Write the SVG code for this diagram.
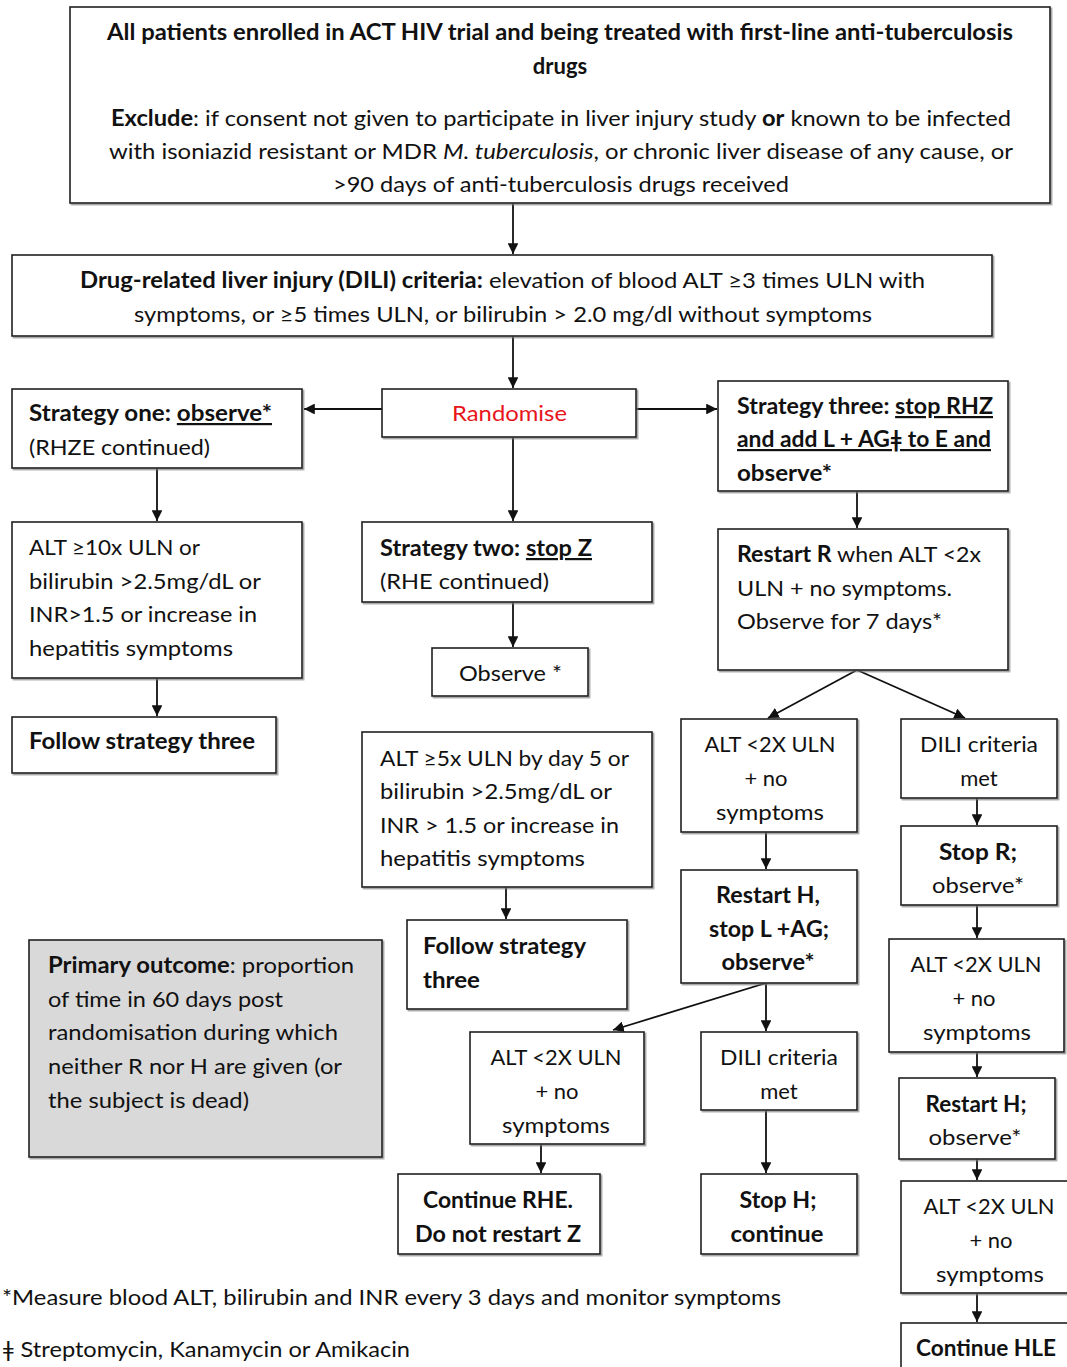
<svg xmlns="http://www.w3.org/2000/svg" width="1067" height="1367" viewBox="0 0 1067 1367">
<style>
.box{fill:#fff;stroke:#1f1f1f;stroke-width:1.6;filter:url(#sh)}
.grey{fill:#d9d9d9}
.t{font-family:Lato,"Liberation Sans",sans-serif;font-size:22px;fill:#111}
.b{font-weight:700}
.c{text-anchor:middle}
.u{text-decoration:underline}
.red{fill:#e8141b}
.con{fill:none;stroke:#111;stroke-width:1.8;marker-end:url(#ah)}
</style>
<defs>
<marker id="ah" viewBox="0 0 10 10" refX="10" refY="5" markerWidth="6" markerHeight="6" markerUnits="strokeWidth" orient="auto">
<path d="M0,0 L10,5 L0,10 z" fill="#111"/>
</marker>
<filter id="sh" x="-5%" y="-5%" width="110%" height="115%">
<feDropShadow dx="1.5" dy="1.5" stdDeviation="0.6" flood-color="#777" flood-opacity="0.7"/>
</filter>
</defs>
<rect width="1067" height="1367" fill="#fff"/>

<g id="connectors">
<path class="con" d="M513,203 V254"/>
<path class="con" d="M513,336 V388"/>
<path class="con" d="M382,409 H304"/>
<path class="con" d="M636,409 H717"/>
<path class="con" d="M513,437 V521"/>
<path class="con" d="M157,468 V521"/>
<path class="con" d="M157,678 V716"/>
<path class="con" d="M513,602 V647"/>
<path class="con" d="M506,887 V919"/>
<path class="con" d="M857,491 V528"/>
<path class="con" d="M857,670 L768,718"/>
<path class="con" d="M857,670 L965,718"/>
<path class="con" d="M766,832 V869"/>
<path class="con" d="M977,798 V825"/>
<path class="con" d="M977,905 V938"/>
<path class="con" d="M977,1052 V1077"/>
<path class="con" d="M977,1159 V1180"/>
<path class="con" d="M977,1293 V1322"/>
<path class="con" d="M766,983 L613,1030"/>
<path class="con" d="M766,983 V1031"/>
<path class="con" d="M541,1144 V1173"/>
<path class="con" d="M766,1110 V1173"/>
</g>

<g id="n-enrolled">
<rect class="box" x="70" y="7" width="980" height="196"/>
<text class="t b c" x="560" y="40" textLength="906" lengthAdjust="spacingAndGlyphs">All patients enrolled in ACT HIV trial and being treated with first-line anti-tuberculosis</text>
<text class="t b c" x="560" y="74">drugs</text>
<text class="t" x="111" y="126" textLength="900" lengthAdjust="spacingAndGlyphs"><tspan class="b">Exclude</tspan>: if consent not given to participate in liver injury study <tspan class="b">or</tspan> known to be infected</text>
<text class="t" x="109" y="159" textLength="904" lengthAdjust="spacingAndGlyphs">with isoniazid resistant or MDR <tspan font-style="italic">M. tuberculosis</tspan>, or chronic liver disease of any cause, or</text>
<text class="t" x="333" y="192" textLength="456" lengthAdjust="spacingAndGlyphs">&gt;90 days of anti-tuberculosis drugs received</text>
</g>

<g id="n-dili-criteria">
<rect class="box" x="12" y="255" width="980" height="81"/>
<text class="t" x="80" y="288" textLength="845" lengthAdjust="spacingAndGlyphs"><tspan class="b">Drug-related liver injury (DILI) criteria:</tspan>  elevation of blood ALT ≥3 times ULN with</text>
<text class="t" x="134" y="322" textLength="738" lengthAdjust="spacingAndGlyphs">symptoms, or ≥5 times ULN, or bilirubin &gt; 2.0 mg/dl without symptoms</text>
</g>

<g id="n-randomise">
<rect class="box" x="382" y="389" width="254" height="48"/>
<text class="t red" x="452" y="421" textLength="115" lengthAdjust="spacingAndGlyphs">Randomise</text>
</g>

<g id="n-strategy-one">
<rect class="box" x="12" y="389" width="290" height="79"/>
<text class="t b" x="29" y="421" textLength="243" lengthAdjust="spacingAndGlyphs">Strategy one: <tspan class="u">observe*</tspan></text>
<text class="t" x="29" y="455" textLength="181" lengthAdjust="spacingAndGlyphs">(RHZE continued)</text>
</g>

<g id="n-alt10">
<rect class="box" x="12" y="522" width="290" height="156"/>
<text class="t" x="29" y="555" textLength="171" lengthAdjust="spacingAndGlyphs">ALT ≥10x ULN or</text>
<text class="t" x="29" y="589" textLength="232" lengthAdjust="spacingAndGlyphs">bilirubin &gt;2.5mg/dL or</text>
<text class="t" x="29" y="622" textLength="228" lengthAdjust="spacingAndGlyphs">INR&gt;1.5 or increase in</text>
<text class="t" x="29" y="656" textLength="204" lengthAdjust="spacingAndGlyphs">hepatitis symptoms</text>
</g>

<g id="n-follow3-a">
<rect class="box" x="12" y="717" width="264" height="56"/>
<text class="t b" x="29" y="749" textLength="226" lengthAdjust="spacingAndGlyphs">Follow strategy three</text>
</g>

<g id="n-strategy-two">
<rect class="box" x="362" y="522" width="290" height="80"/>
<text class="t b" x="380" y="556" textLength="212" lengthAdjust="spacingAndGlyphs">Strategy two: <tspan class="u">stop Z</tspan></text>
<text class="t" x="380" y="589" textLength="169" lengthAdjust="spacingAndGlyphs">(RHE continued)</text>
</g>

<g id="n-observe">
<rect class="box" x="432" y="648" width="156" height="48"/>
<text class="t" x="459" y="681" textLength="103" lengthAdjust="spacingAndGlyphs">Observe *</text>
</g>

<g id="n-alt5">
<rect class="box" x="362" y="732" width="290" height="155"/>
<text class="t" x="380" y="766" textLength="249" lengthAdjust="spacingAndGlyphs">ALT ≥5x ULN by day 5 or</text>
<text class="t" x="380" y="799" textLength="232" lengthAdjust="spacingAndGlyphs">bilirubin &gt;2.5mg/dL or</text>
<text class="t" x="380" y="833" textLength="239" lengthAdjust="spacingAndGlyphs">INR &gt; 1.5 or increase in</text>
<text class="t" x="380" y="866" textLength="205" lengthAdjust="spacingAndGlyphs">hepatitis symptoms</text>
</g>

<g id="n-follow3-b">
<rect class="box" x="407" y="920" width="220" height="89"/>
<text class="t b" x="423" y="954" textLength="163" lengthAdjust="spacingAndGlyphs">Follow strategy</text>
<text class="t b" x="423" y="988" textLength="57" lengthAdjust="spacingAndGlyphs">three</text>
</g>

<g id="n-primary-outcome">
<rect class="box grey" x="29" y="940" width="353" height="217"/>
<text class="t" x="48" y="973" textLength="306" lengthAdjust="spacingAndGlyphs"><tspan class="b">Primary outcome</tspan>: proportion</text>
<text class="t" x="48" y="1007" textLength="235" lengthAdjust="spacingAndGlyphs">of time in 60 days post</text>
<text class="t" x="48" y="1040" textLength="290" lengthAdjust="spacingAndGlyphs">randomisation during which</text>
<text class="t" x="48" y="1074" textLength="294" lengthAdjust="spacingAndGlyphs">neither R nor H are given (or</text>
<text class="t" x="48" y="1108" textLength="201" lengthAdjust="spacingAndGlyphs">the subject is dead)</text>
</g>

<g id="n-strategy-three">
<rect class="box" x="718" y="381" width="290" height="110"/>
<text class="t b" x="737" y="414" textLength="256" lengthAdjust="spacingAndGlyphs">Strategy three: <tspan class="u">stop RHZ</tspan></text>
<text class="t b u" x="737" y="447" textLength="254" lengthAdjust="spacingAndGlyphs">and add L + AGǂ to E and</text>
<text class="t b" x="737" y="481" textLength="95" lengthAdjust="spacingAndGlyphs">observe*</text>
</g>

<g id="n-restart-r">
<rect class="box" x="718" y="529" width="290" height="141"/>
<text class="t" x="737" y="562" textLength="244" lengthAdjust="spacingAndGlyphs"><tspan class="b">Restart R</tspan> when ALT &lt;2x</text>
<text class="t" x="737" y="596" textLength="215" lengthAdjust="spacingAndGlyphs">ULN + no symptoms.</text>
<text class="t" x="737" y="629" textLength="205" lengthAdjust="spacingAndGlyphs">Observe for 7 days*</text>
</g>

<g id="n-alt2-a">
<rect class="box" x="681" y="719" width="176" height="113"/>
<text class="t c" x="770" y="752" textLength="131" lengthAdjust="spacingAndGlyphs">ALT &lt;2X ULN</text>
<text class="t c" x="766" y="786">+ no</text>
<text class="t c" x="770" y="820" textLength="108" lengthAdjust="spacingAndGlyphs">symptoms</text>
</g>

<g id="n-dili-met-a">
<rect class="box" x="901" y="719" width="156" height="79"/>
<text class="t c" x="979" y="752" textLength="118" lengthAdjust="spacingAndGlyphs">DILI criteria</text>
<text class="t c" x="979" y="786">met</text>
</g>

<g id="n-restart-h-stop">
<rect class="box" x="681" y="870" width="176" height="113"/>
<text class="t b c" x="768" y="903" textLength="104" lengthAdjust="spacingAndGlyphs">Restart H,</text>
<text class="t b c" x="769" y="937" textLength="120" lengthAdjust="spacingAndGlyphs">stop L +AG;</text>
<text class="t b c" x="768" y="970" textLength="93" lengthAdjust="spacingAndGlyphs">observe*</text>
</g>

<g id="n-stop-r">
<rect class="box" x="901" y="826" width="156" height="79"/>
<text class="t b c" x="978" y="860" textLength="78" lengthAdjust="spacingAndGlyphs">Stop R;</text>
<text class="t c" x="978" y="893" textLength="92" lengthAdjust="spacingAndGlyphs">observe*</text>
</g>

<g id="n-alt2-b">
<rect class="box" x="889" y="939" width="175" height="113"/>
<text class="t c" x="976" y="972" textLength="131" lengthAdjust="spacingAndGlyphs">ALT &lt;2X ULN</text>
<text class="t c" x="974" y="1006">+ no</text>
<text class="t c" x="977" y="1040" textLength="108" lengthAdjust="spacingAndGlyphs">symptoms</text>
</g>

<g id="n-restart-h">
<rect class="box" x="899" y="1078" width="156" height="81"/>
<text class="t b c" x="976" y="1112" textLength="101" lengthAdjust="spacingAndGlyphs">Restart H;</text>
<text class="t c" x="975" y="1145" textLength="93" lengthAdjust="spacingAndGlyphs">observe*</text>
</g>

<g id="n-alt2-c">
<rect class="box" x="901" y="1181" width="170" height="112"/>
<text class="t c" x="989" y="1214" textLength="131" lengthAdjust="spacingAndGlyphs">ALT &lt;2X ULN</text>
<text class="t c" x="991" y="1248">+ no</text>
<text class="t c" x="990" y="1282" textLength="108" lengthAdjust="spacingAndGlyphs">symptoms</text>
</g>

<g id="n-continue-hle">
<rect class="box" x="901" y="1323" width="170" height="60"/>
<text class="t b" x="916" y="1356" textLength="140" lengthAdjust="spacingAndGlyphs">Continue HLE</text>
</g>

<g id="n-alt2-d">
<rect class="box" x="470" y="1032" width="174" height="112"/>
<text class="t c" x="556" y="1065" textLength="131" lengthAdjust="spacingAndGlyphs">ALT &lt;2X ULN</text>
<text class="t c" x="557" y="1099">+ no</text>
<text class="t c" x="556" y="1133" textLength="108" lengthAdjust="spacingAndGlyphs">symptoms</text>
</g>

<g id="n-dili-met-b">
<rect class="box" x="701" y="1032" width="156" height="78"/>
<text class="t c" x="779" y="1065" textLength="118" lengthAdjust="spacingAndGlyphs">DILI criteria</text>
<text class="t c" x="779" y="1099">met</text>
</g>

<g id="n-continue-rhe">
<rect class="box" x="398" y="1174" width="202" height="80"/>
<text class="t b c" x="498" y="1208" textLength="150" lengthAdjust="spacingAndGlyphs">Continue RHE.</text>
<text class="t b c" x="498" y="1242" textLength="166" lengthAdjust="spacingAndGlyphs">Do not restart Z</text>
</g>

<g id="n-stop-h">
<rect class="box" x="701" y="1174" width="156" height="80"/>
<text class="t b c" x="778" y="1208" textLength="77" lengthAdjust="spacingAndGlyphs">Stop H;</text>
<text class="t b c" x="777" y="1242" textLength="93" lengthAdjust="spacingAndGlyphs">continue</text>
</g>

<g id="footnotes">
<text class="t" x="2" y="1305" textLength="779" lengthAdjust="spacingAndGlyphs">*Measure blood ALT, bilirubin and INR every 3 days and monitor symptoms</text>
<text class="t" x="2" y="1357" textLength="408" lengthAdjust="spacingAndGlyphs">ǂ Streptomycin, Kanamycin or Amikacin</text>
</g>
</svg>
